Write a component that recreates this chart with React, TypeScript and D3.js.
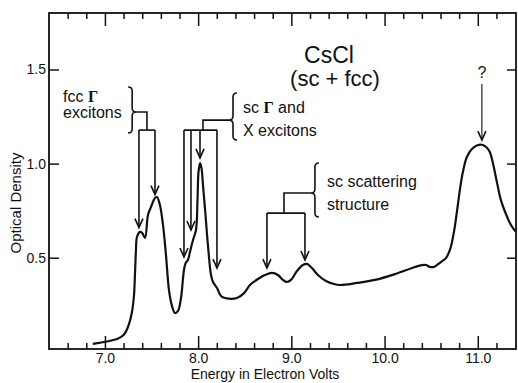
import React, { useEffect, useRef } from 'react';
import * as d3 from 'd3';

// Optical density spectrum of CsCl (energy in eV)
const ENERGY = [
  6.87, 7.13, 7.2, 7.247, 7.29, 7.312, 7.322, 7.333, 7.344, 7.376, 7.4, 7.43,
  7.462, 7.494, 7.537, 7.558, 7.59, 7.623, 7.655, 7.687, 7.72, 7.751, 7.784,
  7.816, 7.848, 7.866, 7.891, 7.912, 7.945, 7.977, 7.993, 8.004, 8.02, 8.036,
  8.052, 8.079, 8.105, 8.138, 8.159, 8.202, 8.245, 8.288, 8.417, 8.492, 8.556,
  8.642, 8.717, 8.792, 8.856, 8.91, 8.953, 8.996, 9.06, 9.124, 9.167, 9.221,
  9.285, 9.371, 9.457, 9.521, 9.704, 9.897, 10.111, 10.326, 10.401, 10.444,
  10.487, 10.53, 10.605, 10.658, 10.701, 10.744, 10.776, 10.808, 10.84,
  10.883, 10.937, 10.99, 11.044, 11.09, 11.13, 11.162, 11.205, 11.248,
  11.302, 11.356, 11.409,
];
const DENSITY = [
  0.042, 0.068, 0.089, 0.132, 0.212, 0.302, 0.408, 0.541, 0.61, 0.637, 0.631,
  0.605, 0.727, 0.769, 0.817, 0.822, 0.78, 0.674, 0.514, 0.328, 0.243, 0.206,
  0.217, 0.286, 0.435, 0.472, 0.488, 0.53, 0.594, 0.647, 0.806, 0.955, 1.003,
  0.976, 0.886, 0.727, 0.567, 0.408, 0.371, 0.339, 0.297, 0.286, 0.286,
  0.312, 0.355, 0.387, 0.408, 0.419, 0.408, 0.382, 0.371, 0.382, 0.429,
  0.461, 0.467, 0.445, 0.408, 0.376, 0.36, 0.355, 0.366, 0.382, 0.413,
  0.451, 0.461, 0.461, 0.451, 0.451, 0.477, 0.498, 0.541, 0.636, 0.743,
  0.86, 0.955, 1.035, 1.077, 1.096, 1.1, 1.088, 1.06, 1.003, 0.902, 0.806,
  0.732, 0.674, 0.637,
];

const X_MAJOR = [7, 8, 9, 10, 11];
const X_LABELS = ['7.0', '8.0', '9.0', '10.0', '11.0'];
const X_MINOR = d3.range(6.6, 11.3, 0.2).filter(v => Math.abs(v - Math.round(v)) > 0.05);
const Y_TICKS = [0.5, 1.0, 1.5];
const Y_LABELS = ['0.5', '1.0', '1.5'];

// Arrow groups: energies pointed at, and the optical density of each tip
const FCC_ARROWS = [7.365, 7.537];
const FCC_TIPS = [0.66, 0.835];
const SC_ARROWS = [7.848, 7.923, 8.02, 8.202];
const SC_TIPS = [0.504, 0.647, 1.03, 0.445];
const SCAT_ARROWS = [8.738, 9.146];
const SCAT_TIPS = [0.445, 0.488];
const PEAK_ARROW = 11.044;
const PEAK_TIP = 1.125;

const W = 518;
const H = 383;
const FRAME = { left: 49, right: 516, top: 13, bottom: 349 };
const INK = '#111';
const FONT = '"Liberation Sans", Arial, sans-serif';
const SERIF = '"Liberation Serif", "DejaVu Serif", serif';

interface Group {
  arrows: number[];
  tips: number[];
  bar: number;
  stem: number;
  joint: number;
  brace: number;
  braceTop: number;
  braceBottom: number;
  dir: 1 | -1; // 1: "}" pointing right, -1: "{" pointing left
}

const GROUPS: Group[] = [
  { arrows: FCC_ARROWS, tips: FCC_TIPS, bar: 1.178, stem: 7.451, joint: 1.274, brace: 7.335, braceTop: 1.407, braceBottom: 1.163, dir: 1 },
  { arrows: SC_ARROWS, tips: SC_TIPS, bar: 1.178, stem: 8.052, joint: 1.231, brace: 8.331, braceTop: 1.375, braceBottom: 1.125, dir: -1 },
  { arrows: SCAT_ARROWS, tips: SCAT_TIPS, bar: 0.737, stem: 8.921, joint: 0.844, brace: 9.21, braceTop: 1.003, braceBottom: 0.716, dir: -1 },
];

function bracePath(px: number, mid: number, top: number, bot: number, dir: number) {
  const sx = px - dir * 4;
  const ex = px - dir * 8;
  return `M${ex},${top} Q${sx},${top} ${sx},${top + 4} L${sx},${mid - 4} Q${sx},${mid} ${px},${mid}` +
    ` Q${sx},${mid} ${sx},${mid + 4} L${sx},${bot - 4} Q${sx},${bot} ${ex},${bot}`;
}

const App: React.FC = () => {
  const ref = useRef<SVGSVGElement>(null);

  useEffect(() => {
    if (!ref.current) return;
    const svg = d3.select(ref.current);
    svg.selectAll('*').remove();

    const x = d3.scaleLinear().domain([6.4, 11.41]).range([FRAME.left, FRAME.right]);
    const y = d3.scaleLinear().domain([0.015, 1.8]).range([FRAME.bottom, FRAME.top]);

    const axis = (g: d3.Selection<SVGGElement, unknown, null, undefined>) => {
      g.select('.domain').remove();
      g.selectAll('line').attr('stroke', INK).attr('stroke-width', 1.5);
      g.selectAll('text').filter(function () { return !(this as SVGTextElement).textContent; }).remove();
      g.selectAll('text').attr('fill', INK).style('font-family', FONT).style('font-size', '14px');
    };

    // bottom + top ticks, pointing inward
    svg.append('g').attr('transform', `translate(0,${FRAME.bottom})`)
      .call(d3.axisBottom(x).tickValues(X_MINOR).tickSize(-6).tickFormat(() => '')).call(axis);
    svg.append('g').attr('transform', `translate(0,${FRAME.bottom})`)
      .call(d3.axisBottom(x).tickValues(X_MAJOR).tickSize(-13).tickPadding(4)
        .tickFormat((_d, i) => X_LABELS[i])).call(axis);
    svg.append('g').attr('transform', `translate(0,${FRAME.top})`)
      .call(d3.axisTop(x).tickValues(X_MINOR).tickSize(-6).tickFormat(() => '')).call(axis);
    svg.append('g').attr('transform', `translate(0,${FRAME.top})`)
      .call(d3.axisTop(x).tickValues(X_MAJOR).tickSize(-13).tickFormat(() => '')).call(axis);

    svg.append('g').attr('transform', `translate(${FRAME.left},0)`)
      .call(d3.axisLeft(y).tickValues(Y_TICKS).tickSize(-10).tickPadding(3)
        .tickFormat((_d, i) => Y_LABELS[i])).call(axis);
    svg.append('g').attr('transform', `translate(${FRAME.right},0)`)
      .call(d3.axisRight(y).tickValues(Y_TICKS).tickSize(-9).tickFormat(() => '')).call(axis);

    svg.append('rect')
      .attr('x', FRAME.left).attr('y', FRAME.top)
      .attr('width', FRAME.right - FRAME.left).attr('height', FRAME.bottom - FRAME.top)
      .attr('fill', 'none').attr('stroke', INK).attr('stroke-width', 1.8);

    // spectrum
    const line = d3.line<number>()
      .x((_d, i) => x(ENERGY[i]))
      .y(d => y(d))
      .curve(d3.curveCatmullRom.alpha(0.5));
    svg.append('path')
      .attr('d', line(DENSITY))
      .attr('fill', 'none').attr('stroke', INK).attr('stroke-width', 2.2)
      .attr('stroke-linejoin', 'round');

    // annotation arrows
    const ann = svg.append('g').attr('fill', 'none').attr('stroke', INK).attr('stroke-width', 1.6);
    const arrow = (e: number, from: number, tip: number, width = 1.6) => {
      const ax = x(e);
      const ty = y(tip);
      ann.append('line').attr('x1', ax).attr('x2', ax).attr('y1', from).attr('y2', ty)
        .attr('stroke-width', width);
      ann.append('path').attr('d', `M${ax - 4},${ty - 9} L${ax},${ty} L${ax + 4},${ty - 9}`);
    };

    GROUPS.forEach(g => {
      const barY = y(g.bar);
      const xs = g.arrows.map(a => x(a));
      ann.append('line').attr('x1', d3.min(xs)!).attr('x2', d3.max(xs)!).attr('y1', barY).attr('y2', barY);
      ann.append('path').attr('d', `M${x(g.brace)},${y(g.joint)} H${x(g.stem)} V${barY}`);
      ann.append('path').attr('d', bracePath(x(g.brace), y(g.joint), y(g.braceTop), y(g.braceBottom), g.dir));
      g.arrows.forEach((a, i) => arrow(a, barY, g.tips[i]));
    });

    const qX = x(PEAK_ARROW);
    arrow(PEAK_ARROW, 84, PEAK_TIP, 1.1);

    const text = (tx: number, ty: number, size: number, anchor = 'start') =>
      svg.append('text').attr('x', tx).attr('y', ty).attr('text-anchor', anchor)
        .attr('fill', INK).style('font-family', FONT).style('font-size', `${size}px`);

    const gamma = (t: d3.Selection<SVGTextElement, unknown, null, undefined>, before: string, after: string) => {
      t.append('tspan').text(before);
      t.append('tspan').style('font-family', SERIF).style('font-weight', 'bold').text('Γ');
      if (after) t.append('tspan').text(after);
    };

    gamma(text(63, 102, 16), 'fcc ', '');
    text(63, 118, 16).text('excitons');
    gamma(text(243, 113, 16), 'sc ', ' and');
    text(243, 136, 16).text('X excitons');
    text(327, 187, 16).text('sc scattering');
    text(327, 210, 16).text('structure');
    text(329, 63, 23, 'middle').text('CsCl');
    text(335, 86, 22, 'middle').text('(sc + fcc)');
    text(qX, 78, 16, 'middle').text('?');

    text(265, 379, 14, 'middle').text('Energy in Electron Volts');
    text(0, 0, 15, 'middle').attr('transform', 'translate(21,203) rotate(-90)').text('Optical Density');
  }, []);

  return (
    <svg
      ref={ref}
      width={W}
      height={H}
      style={{ position: 'absolute', left: 0, top: 0, background: '#fff' }}
    />
  );
};

export default App;
